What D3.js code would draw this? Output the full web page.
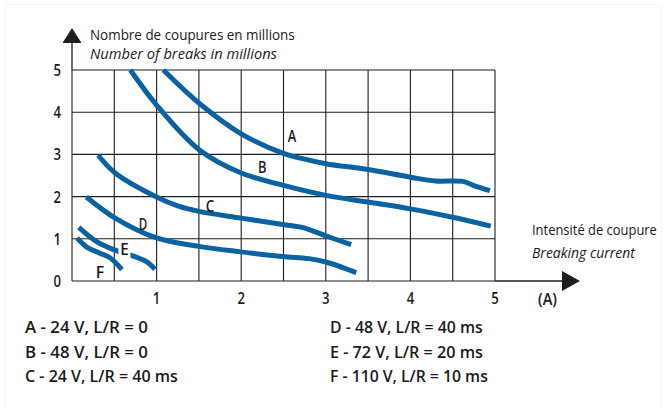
<!DOCTYPE html>
<html>
<head>
<meta charset="utf-8">
<script src="https://cdn.jsdelivr.net/npm/d3@7"></script>
<style>
  html, body { margin: 0; padding: 0; background: #fff; }
  svg { display: block; }
  text { font-family: "Open Sans", "Noto Sans", sans-serif; fill: #1a1a1a; }
</style>
</head>
<body>
<svg id="chart" width="667" height="408"></svg>
<script>
// ---- data ----
const xTicks = [1, 2, 3, 4, 5];
const yTicks = [0, 1, 2, 3, 4, 5];
const gridX = [0, 0.5, 1, 1.5, 2, 2.5, 3, 3.5, 4, 4.5, 5];
const gridY = [0, 1, 2, 3, 4, 5];

const curveA = [[1.08, 5.0], [1.51, 4.2], [1.99, 3.5], [2.49, 3.03], [2.7, 2.91], [3.0, 2.78], [3.5, 2.64], [4.0, 2.46], [4.3, 2.37], [4.62, 2.36], [4.75, 2.26], [4.94, 2.14]];
const curveB = [[0.69, 5.0], [1.0, 4.17], [1.51, 3.1], [2.0, 2.56], [2.49, 2.27], [3.0, 2.03], [3.5, 1.87], [4.0, 1.71], [4.5, 1.51], [4.95, 1.3]];
const curveC = [[0.31, 2.98], [0.51, 2.56], [1.0, 1.99], [1.25, 1.78], [1.5, 1.65], [2.0, 1.49], [2.49, 1.34], [2.72, 1.27], [3.0, 1.07], [3.3, 0.86]];
const curveD = [[0.17, 1.99], [0.51, 1.49], [1.0, 1.02], [1.5, 0.82], [2.0, 0.69], [2.49, 0.58], [2.8, 0.53], [3.0, 0.45], [3.36, 0.2]];
const curveE = [[0.08, 1.27], [0.3, 0.92], [0.51, 0.73], [0.71, 0.6], [0.88, 0.46], [0.98, 0.28]];
const curveF = [[0.06, 1.02], [0.17, 0.81], [0.33, 0.66], [0.45, 0.55], [0.59, 0.27]];

const curves = [
  { id: "A", pts: curveA, lx: 2.6, ly: 3.3 },
  { id: "B", pts: curveB, lx: 2.25, ly: 2.56 },
  { id: "C", pts: curveC, lx: 1.63, ly: 1.64 },
  { id: "D", pts: curveD, lx: 0.84, ly: 1.2 },
  { id: "E", pts: curveE, lx: 0.62, ly: 0.62 },
  { id: "F", pts: curveF, lx: 0.33, ly: 0.08 }
];

const legendCol1 = ["A - 24 V, L/R = 0", "B - 48 V, L/R = 0", "C - 24 V, L/R = 40 ms"];
const legendCol2 = ["D - 48 V, L/R = 40 ms", "E - 72 V, L/R = 20 ms", "F - 110 V, L/R = 10 ms"];

const yTitle = ["Nombre de coupures en millions", "Number of breaks in millions"];
const xTitle = ["Intensité de coupure", "Breaking current"];
const unitLabel = "(A)";

// ---- layout ----
const svg = d3.select("#chart");
const x = d3.scaleLinear().domain([0, 5]).range([72, 495]);
const y = d3.scaleLinear().domain([0, 5]).range([281, 70]);
const ink = "#1e1e1e";
const blue = "#0a62a0";

// draw a text condensed horizontally to a given width (scaled around its anchor)
function label(px, py, str, w, o = {}) {
  const t = svg.append("text")
    .attr("x", 0).attr("y", 0)
    .attr("text-anchor", o.anchor || "start")
    .attr("font-size", o.size || 16)
    .attr("font-weight", o.weight || 400)
    .attr("font-style", o.style || "normal")
    .text(str);
  const nat = t.node().getComputedTextLength() || w;
  const s = w / nat;
  t.attr("transform", `translate(${px},${py}) scale(${s},1)`);
  return t;
}

// faint frame
svg.append("rect").attr("x", 5.5).attr("y", 4.5).attr("width", 656).attr("height", 430)
  .attr("fill", "none").attr("stroke", "#f4f4f4").attr("stroke-width", 1);

// grid
const g = svg.append("g");
g.selectAll(".gx").data(gridX).join("line")
  .attr("x1", d => x(d)).attr("x2", d => x(d))
  .attr("y1", y(0)).attr("y2", y(5))
  .attr("stroke", ink).attr("stroke-width", 1.1);
g.selectAll(".gy").data(gridY).join("line")
  .attr("x1", x(0)).attr("x2", x(5))
  .attr("y1", d => y(d)).attr("y2", d => y(d))
  .attr("stroke", ink).attr("stroke-width", 1.1);

// axes extensions with arrows
svg.append("line").attr("x1", x(0)).attr("x2", x(0)).attr("y1", y(5)).attr("y2", 42)
  .attr("stroke", ink).attr("stroke-width", 1.3);
svg.append("path").attr("d", `M${x(0)},28 L${x(0) + 9.5},43 L${x(0) - 9.5},43 Z`).attr("fill", ink);
svg.append("line").attr("x1", x(5)).attr("x2", 564).attr("y1", y(0)).attr("y2", y(0))
  .attr("stroke", ink).attr("stroke-width", 1.3);
svg.append("path").attr("d", `M580,${y(0)} L562,${y(0) - 10} L562,${y(0) + 10} Z`).attr("fill", ink);

// tick labels
yTicks.forEach(d => label(61, y(d) + 6, String(d), 7.5, { anchor: "end", size: 17, weight: 600 }));
xTicks.forEach(d => label(x(d), 304, String(d), 7.5, { anchor: "middle", size: 17, weight: 600 }));
label(538, 305, unitLabel, 19, { size: 16, weight: 600 });

// titles
label(90, 40, yTitle[0], 205, { size: 14.5, weight: 500 });
label(90, 59, yTitle[1], 187, { size: 14.5, weight: 500, style: "italic" });
label(532, 235, xTitle[0], 125, { size: 14.5, weight: 500 });
label(532, 258, xTitle[1], 103, { size: 14.5, weight: 500, style: "italic" });

// curves
const line = d3.line().x(d => x(d[0])).y(d => y(d[1])).curve(d3.curveCatmullRom.alpha(0.5));
svg.selectAll(".curve").data(curves).join("path")
  .attr("d", d => line(d.pts))
  .attr("fill", "none").attr("stroke", blue).attr("stroke-width", 5)
  .attr("stroke-linecap", "butt");

// curve labels
curves.forEach(c => {
  if (c.id === "E") {
    svg.append("rect").attr("x", x(c.lx) - 6).attr("y", y(c.ly) - 14)
      .attr("width", 12).attr("height", 17).attr("fill", "#fff");
  }
  label(x(c.lx), y(c.ly), c.id, 8.5, { anchor: "middle", size: 17, weight: 600 });
});

// legend
const legW1 = [123, 123, 153];
const legW2 = [153, 153, 158];
legendCol1.forEach((d, i) => label(25, 333 + i * 24.5, d, legW1[i], { size: 16.5, weight: 600 }));
legendCol2.forEach((d, i) => label(330, 333 + i * 24.5, d, legW2[i], { size: 16.5, weight: 600 }));
</script>
</body>
</html>
